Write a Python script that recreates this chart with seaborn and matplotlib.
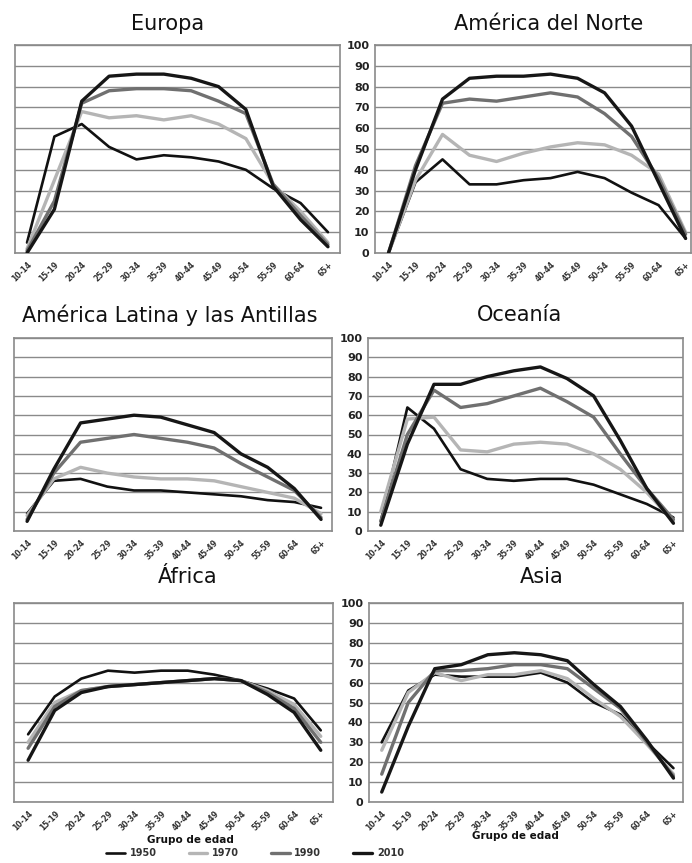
import matplotlib
matplotlib.use("Agg")
import matplotlib.pyplot as plt
from matplotlib.lines import Line2D
import seaborn as sns
import pandas as pd

sns.set_theme(style="white")
plt.rcParams['font.family'] = ['DejaVu Sans']

age_groups = ["10-14", "15-19", "20-24", "25-29", "30-34", "35-39",
              "40-44", "45-49", "50-54", "55-59", "60-64", "65+"]
years = ["1950", "1970", "1990", "2010"]

europa_1950 = [5, 56, 62, 51, 45, 47, 46, 44, 40, 31, 24, 10]
europa_1970 = [2, 35, 68, 65, 66, 64, 66, 62, 55, 33, 20, 5]
europa_1990 = [1, 25, 72, 78, 79, 79, 78, 73, 67, 33, 18, 4]
europa_2010 = [0, 21, 73, 85, 86, 86, 84, 80, 69, 32, 16, 3]

norte_1950 = [0, 34, 45, 33, 33, 35, 36, 39, 36, 29, 23, 7]
norte_1970 = [0, 35, 57, 47, 44, 48, 51, 53, 52, 47, 38, 10]
norte_1990 = [0, 42, 72, 74, 73, 75, 77, 75, 67, 56, 36, 9]
norte_2010 = [0, 40, 74, 84, 85, 85, 86, 84, 77, 61, 34, 7]

latina_1950 = [9, 26, 27, 23, 21, 21, 20, 19, 18, 16, 15, 12]
latina_1970 = [8, 27, 33, 30, 28, 27, 27, 26, 23, 20, 17, 9]
latina_1990 = [6, 30, 46, 48, 50, 48, 46, 43, 35, 28, 21, 7]
latina_2010 = [5, 32, 56, 58, 60, 59, 55, 51, 40, 33, 22, 6]

oceania_1950 = [5, 64, 53, 32, 27, 26, 27, 27, 24, 19, 14, 7]
oceania_1970 = [10, 58, 59, 42, 41, 45, 46, 45, 40, 32, 20, 5]
oceania_1990 = [5, 50, 73, 64, 66, 70, 74, 67, 59, 40, 22, 6]
oceania_2010 = [3, 45, 76, 76, 80, 83, 85, 79, 70, 47, 22, 4]

africa_1950 = [34, 53, 62, 66, 65, 66, 66, 64, 61, 57, 52, 36]
africa_1970 = [30, 50, 56, 58, 59, 60, 61, 62, 61, 56, 49, 33]
africa_1990 = [27, 48, 56, 58, 59, 60, 61, 62, 61, 55, 47, 30]
africa_2010 = [21, 46, 55, 58, 59, 60, 61, 62, 61, 54, 45, 26]

asia_1950 = [30, 56, 64, 63, 63, 63, 65, 60, 50, 44, 30, 17]
asia_1970 = [26, 55, 65, 61, 64, 64, 66, 62, 52, 43, 29, 14]
asia_1990 = [14, 50, 66, 66, 67, 69, 69, 67, 57, 47, 30, 13]
asia_2010 = [5, 38, 67, 69, 74, 75, 74, 71, 59, 48, 31, 12]

regions = [
    ("Europa", [europa_1950, europa_1970, europa_1990, europa_2010]),
    ("América del Norte", [norte_1950, norte_1970, norte_1990, norte_2010]),
    ("América Latina y las Antillas", [latina_1950, latina_1970, latina_1990, latina_2010]),
    ("Oceanía", [oceania_1950, oceania_1970, oceania_1990, oceania_2010]),
    ("África", [africa_1950, africa_1970, africa_1990, africa_2010]),
    ("Asia", [asia_1950, asia_1970, asia_1990, asia_2010]),
]

palette = {"1950": "#111111", "1970": "#b5b5b5", "1990": "#707070", "2010": "#161616"}
widths = {"1950": 1.9, "1970": 2.4, "1990": 2.4, "2010": 2.4}

W, H = 692, 863
fig = plt.figure(figsize=(W / 100, H / 100), dpi=100)

# axes rectangles in pixels: left, top, right, bottom ; xlim
boxes = [
    (15, 45, 340, 253, (-0.44, 11.44)),
    (375, 45, 691, 253, (-0.5, 11.2)),
    (14, 338, 332, 531, (-0.49, 11.41)),
    (368, 338, 683, 531, (-0.48, 11.36)),
    (14, 603, 333, 802, (-0.53, 11.46)),
    (369, 603, 683, 802, (-0.48, 11.36)),
]
title_pos = [(168, 24), (549, 24), (170, 315), (520, 315), (188, 577), (542, 577)]

for i, ((name, series), (l, t, r, b, xl)) in enumerate(zip(regions, boxes)):
    ax = fig.add_axes([l / W, 1 - b / H, (r - l) / W, (b - t) / H])
    rows = []
    for yr, vals in zip(years, series):
        for k, v in enumerate(vals):
            rows.append({"x": k, "valor": v, "Año": yr})
    df = pd.DataFrame(rows)
    sns.lineplot(data=df, x="x", y="valor", hue="Año", palette=palette,
                 hue_order=years, legend=False, ax=ax, sort=False)
    for line, yr in zip(ax.lines, years):
        line.set_linewidth(widths[yr])
        line.set_zorder(3 + years.index(yr) * 0.1)
    ax.set_xlim(*xl)
    ax.set_ylim(0, 100)
    ax.set_yticks(range(0, 101, 10))
    ax.grid(axis="y", color="#8a8a8a", linewidth=1.0)
    ax.grid(axis="x", visible=False)
    ax.set_axisbelow(True)
    for s in ax.spines.values():
        s.set_color("#8a8a8a")
        s.set_linewidth(1.2)
    ax.set_xticks(range(len(age_groups)))
    ax.set_xticklabels(age_groups, rotation=45, ha="right", rotation_mode="anchor",
                       fontsize=5.5, fontweight="bold", color="#333333")
    ax.tick_params(axis="x", length=3, color="#8a8a8a", pad=2)
    if i % 2 == 1:
        ax.tick_params(axis="y", length=0, labelsize=8, pad=4, labelcolor="#222222")
        for lab in ax.get_yticklabels():
            lab.set_fontweight("bold")
    else:
        ax.set_yticklabels([])
        ax.tick_params(axis="y", length=0)
    ax.set_xlabel("")
    ax.set_ylabel("")
    tx, ty = title_pos[i]
    fig.text(tx / W, 1 - ty / H, name, ha="center", va="center", fontsize=15,
             color="#111111")

fig.text(190 / W, 1 - 840 / H, "Grupo de edad", ha="center", va="center",
         fontsize=7.5, fontweight="bold", color="#111111")
fig.text(515 / W, 1 - 836 / H, "Grupo de edad", ha="center", va="center",
         fontsize=7.5, fontweight="bold", color="#111111")

handles = [Line2D([0], [0], color=palette[y], lw=widths[y]) for y in years]
leg = fig.legend(handles, years, loc="center", bbox_to_anchor=(255 / W, 1 - 853 / H),
                 ncol=4, frameon=False, fontsize=7, handlelength=1.9,
                 columnspacing=3.3, handletextpad=0.5)
for txt in leg.get_texts():
    txt.set_fontweight("bold")
    txt.set_color("#333333")

fig.savefig("out.png", dpi=100)
